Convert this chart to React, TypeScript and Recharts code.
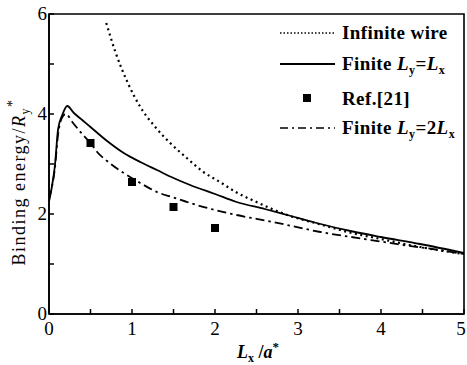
import React from 'react';
import { ComposedChart, Line, Scatter, XAxis, YAxis, ReferenceArea, Customized } from 'recharts';

// Infinite wire (dotted)
const infiniteX = [0.69, 0.8, 0.95, 1.1, 1.28, 1.46, 1.66, 1.86, 2.06, 2.26, 2.5, 2.87, 3.25, 3.6, 4.0, 4.47, 5.0];
const infiniteY = [5.82, 5.24, 4.62, 4.14, 3.74, 3.42, 3.12, 2.84, 2.64, 2.43, 2.24, 1.98, 1.8, 1.64, 1.5, 1.34, 1.2];

// Finite Ly = Lx (solid)
const finiteX = [0, 0.03, 0.07, 0.11, 0.16, 0.22, 0.3, 0.4, 0.5, 0.7, 0.9, 1.1, 1.3, 1.5, 1.7, 2.0, 2.26, 2.6, 2.87, 3.2, 3.66, 4.0, 4.47, 5.0];
const finiteY = [2.25, 2.5, 2.95, 3.7, 3.98, 4.16, 4.02, 3.88, 3.74, 3.46, 3.22, 3.04, 2.88, 2.72, 2.58, 2.4, 2.24, 2.1, 1.98, 1.83, 1.65, 1.54, 1.4, 1.22];

// Finite Ly = 2Lx (dash-dot)
const finite2X = [0, 0.03, 0.07, 0.11, 0.15, 0.2, 0.29, 0.4, 0.5, 0.58, 0.7, 0.9, 1.1, 1.3, 1.5, 1.7, 2.0, 2.26, 2.7, 3.27, 3.8, 4.27, 4.7, 5.0];
const finite2Y = [2.3, 2.5, 2.9, 3.6, 3.9, 4.0, 3.82, 3.6, 3.42, 3.24, 3.06, 2.82, 2.62, 2.44, 2.33, 2.22, 2.08, 1.98, 1.84, 1.64, 1.5, 1.38, 1.28, 1.2];

// Ref.[21] (squares)
const refX = [0.5, 1.0, 1.5, 2.0];
const refY = [3.42, 2.64, 2.14, 1.72];

const xTicks = [0, 0.5, 1, 1.5, 2, 2.5, 3, 3.5, 4, 4.5, 5];
const yTicks = [0, 1, 2, 3, 4, 5, 6];
const xTickLabels = ['0', '', '1', '', '2', '', '3', '', '4', '', '5'];
const yTickLabels = ['0', '', '2', '', '4', '', '6'];

const toPts = (xs: number[], ys: number[]) => xs.map((x, i) => ({ x, y: ys[i] }));
const infiniteData = toPts(infiniteX, infiniteY);
const finiteData = toPts(finiteX, finiteY);
const finite2Data = toPts(finite2X, finite2Y);
const refData = toPts(refX, refY);

const FONT = "Liberation Serif";
const DOTTED = '2 3.5';
const DASHDOT = '9 4 2.5 4';

const XTick = (props: any) => {
  const { x, y, index } = props;
  const label = xTickLabels[index] ?? '';
  return (
    <g>
      <line x1={x} x2={x} y1={y} y2={y - 5} stroke="#000" strokeWidth={1.5} />
      {label !== '' && (
        <text x={Math.min(x, 461)} y={y + 21} textAnchor="middle" style={{ fontFamily: FONT, fontSize: 19 }} fill="#000">
          {label}
        </text>
      )}
    </g>
  );
};

const YTick = (props: any) => {
  const { x, y, index } = props;
  const label = yTickLabels[index] ?? '';
  return (
    <g>
      <line x1={x} x2={x + 5} y1={y} y2={y} stroke="#000" strokeWidth={1.5} />
      {label !== '' && (
        <text x={x - 2} y={y + 6} textAnchor="end" style={{ fontFamily: FONT, fontSize: 19 }} fill="#000">
          {label}
        </text>
      )}
    </g>
  );
};

const Decorations = () => (
  <g style={{ fontFamily: FONT }} fill="#000">
    {/* Legend */}
    <line x1={280} x2={335} y1={33} y2={33} stroke="#000" strokeWidth={1.6} strokeDasharray="1.5 2" />
    <text x={342} y={39} fontSize={19} fontWeight="bold" letterSpacing={0.4}>Infinite wire</text>

    <line x1={280} x2={335} y1={64} y2={64} stroke="#000" strokeWidth={1.8} />
    <text x={342} y={70} fontSize={19} fontWeight="bold" letterSpacing={0.4}>
      Finite <tspan fontStyle="italic">L</tspan>
      <tspan fontSize={12} dy={4}>y</tspan>
      <tspan dy={-4}>=</tspan>
      <tspan fontStyle="italic">L</tspan>
      <tspan fontSize={12} dy={4}>x</tspan>
    </text>

    <rect x={303} y={94} width={8} height={8} fill="#000" />
    <text x={342} y={105} fontSize={19} fontWeight="bold" letterSpacing={0.4}>Ref.[21]</text>

    <line x1={280} x2={335} y1={128} y2={128} stroke="#000" strokeWidth={1.6} strokeDasharray="8 4 2 4" />
    <text x={342} y={134} fontSize={19} fontWeight="bold" letterSpacing={0.4}>
      Finite <tspan fontStyle="italic">L</tspan>
      <tspan fontSize={12} dy={4}>y</tspan>
      <tspan dy={-4}>=2</tspan>
      <tspan fontStyle="italic">L</tspan>
      <tspan fontSize={12} dy={4}>x</tspan>
    </text>

    {/* Y axis title */}
    <text
      x={25}
      y={182}
      transform="rotate(-90, 25, 182)"
      textAnchor="middle"
      fontSize={18}
      letterSpacing={1.5}
    >
      Binding energy/<tspan fontStyle="italic">R</tspan>
      <tspan fontSize={12} dy={4}>y</tspan>
      <tspan fontSize={14} dy={-12}>*</tspan>
    </text>

    {/* X axis title */}
    <text x={258} y={358} textAnchor="middle" fontSize={18} fontWeight="bold">
      <tspan fontStyle="italic">L</tspan>
      <tspan fontSize={12} dy={4}>x</tspan>
      <tspan dy={-4}> /</tspan>
      <tspan fontStyle="italic">a</tspan>
      <tspan fontSize={13} dy={-7}>*</tspan>
    </text>
  </g>
);

export default function App() {
  return (
    <div style={{ position: 'absolute', left: 0, top: 0, background: '#fff' }}>
      <ComposedChart width={467} height={365} margin={{ top: 14, right: 3, left: 0, bottom: 0 }}>
        <XAxis
          type="number"
          dataKey="x"
          domain={[0, 5]}
          ticks={xTicks}
          interval={0}
          height={51}
          tickSize={0}
          tickMargin={0}
          tick={<XTick />}
          axisLine={{ stroke: '#000', strokeWidth: 1.6 }}
          allowDataOverflow
        />
        <YAxis
          type="number"
          dataKey="y"
          domain={[0, 6]}
          ticks={yTicks}
          interval={0}
          width={49}
          tickSize={0}
          tickMargin={0}
          tick={<YTick />}
          axisLine={{ stroke: '#000', strokeWidth: 1.6 }}
          allowDataOverflow
        />
        <ReferenceArea x1={0} x2={5} y1={0} y2={6} fill="none" stroke="#000" strokeWidth={1.6} />
        <Line
          data={infiniteData}
          dataKey="y"
          type="monotone"
          stroke="#000"
          strokeWidth={2.2}
          strokeDasharray={DOTTED}
          dot={false}
          activeDot={false}
          isAnimationActive={false}
        />
        <Line
          data={finiteData}
          dataKey="y"
          type="monotone"
          stroke="#000"
          strokeWidth={1.8}
          dot={false}
          activeDot={false}
          isAnimationActive={false}
        />
        <Line
          data={finite2Data}
          dataKey="y"
          type="monotone"
          stroke="#000"
          strokeWidth={1.8}
          strokeDasharray={DASHDOT}
          dot={false}
          activeDot={false}
          isAnimationActive={false}
        />
        <Scatter data={refData} dataKey="y" fill="#000" shape="square" isAnimationActive={false} />
        <Customized component={Decorations} />
      </ComposedChart>
    </div>
  );
}
